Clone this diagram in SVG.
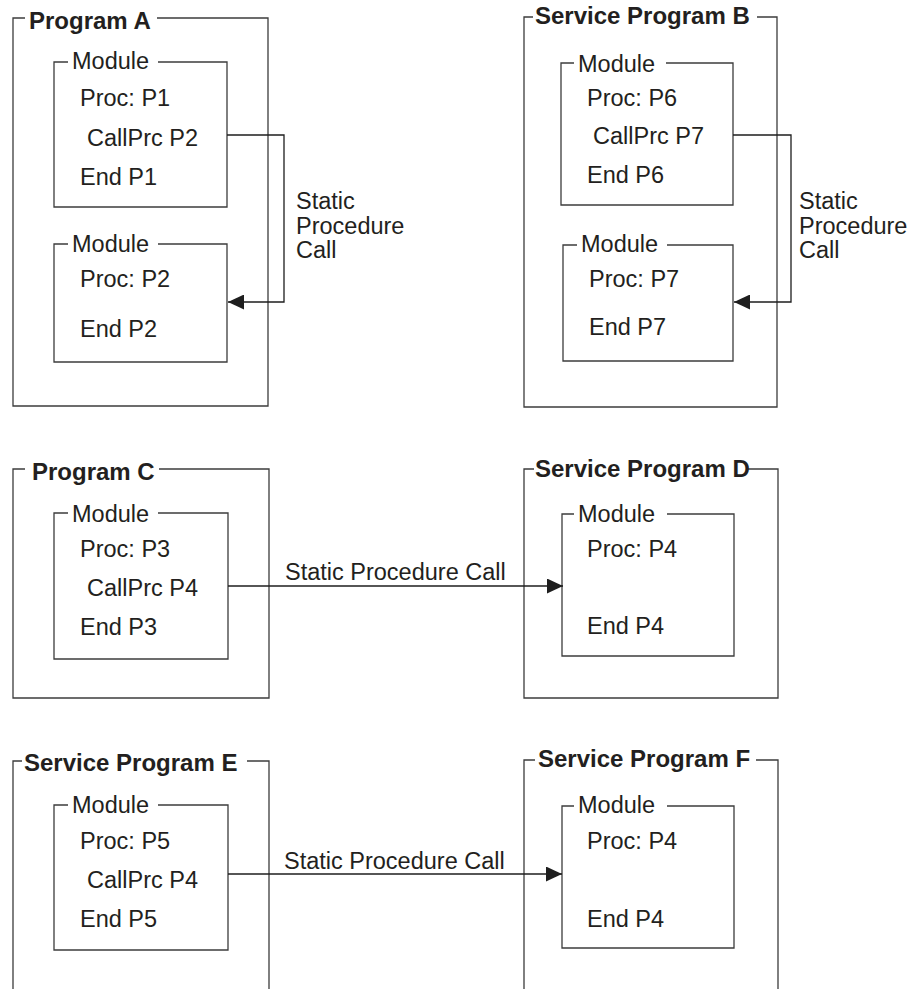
<svg xmlns="http://www.w3.org/2000/svg" width="914" height="989" viewBox="0 0 914 989">
<style>
.box{fill:none;stroke:#3c3c3c;stroke-width:1.3}
.conn{fill:none;stroke:#1e1e1e;stroke-width:1.3}
.t{font-family:"Liberation Sans",Arial,sans-serif;font-size:23.5px;fill:#231f20}
.b{font-family:"Liberation Sans",Arial,sans-serif;font-size:24px;font-weight:bold;fill:#231f20}
</style>
<defs>
<marker id="arr" markerUnits="userSpaceOnUse" viewBox="0 0 16 15" refX="16" refY="7.5" markerWidth="16" markerHeight="15" orient="auto">
<path d="M0,0 L16,7.5 L0,15 Z" fill="#1e1e1e"/>
</marker>
</defs>
<rect width="914" height="989" fill="#fff"/>

<g id="programA">
<path class="box" d="M25,18 H13 V406 H268 V18 H157"/>
<text class="b" x="29" y="29">Program A</text>
<g id="moduleA1">
<path class="box" d="M68,62 H54 V207 H227 V62 H158"/>
<text class="t" x="72" y="69">Module</text>
<text class="t" x="80" y="106">Proc: P1</text>
<text class="t" x="87" y="146">CallPrc P2</text>
<text class="t" x="80" y="185">End P1</text>
</g>
<g id="moduleA2">
<path class="box" d="M68,244 H54 V362 H227 V244 H158"/>
<text class="t" x="72" y="252">Module</text>
<text class="t" x="80" y="287">Proc: P2</text>
<text class="t" x="80" y="337">End P2</text>
</g>
</g>

<g id="serviceProgramB">
<path class="box" d="M533,17 H524 V407 H777 V17 H757"/>
<text class="b" x="535" y="24">Service Program B</text>
<g id="moduleB1">
<path class="box" d="M574,63 H561 V205 H733 V63 H666"/>
<text class="t" x="578" y="72">Module</text>
<text class="t" x="587" y="106">Proc: P6</text>
<text class="t" x="593" y="144">CallPrc P7</text>
<text class="t" x="587" y="183">End P6</text>
</g>
<g id="moduleB2">
<path class="box" d="M577,245 H563 V361 H733 V245 H667"/>
<text class="t" x="581" y="252">Module</text>
<text class="t" x="589" y="287">Proc: P7</text>
<text class="t" x="589" y="335">End P7</text>
</g>
</g>

<g id="programC">
<path class="box" d="M25,469 H13 V698 H269 V469 H159"/>
<text class="b" x="32" y="480">Program C</text>
<g id="moduleC">
<path class="box" d="M68,513 H54 V659 H228 V513 H158"/>
<text class="t" x="72" y="522">Module</text>
<text class="t" x="80" y="557">Proc: P3</text>
<text class="t" x="87" y="596">CallPrc P4</text>
<text class="t" x="80" y="635">End P3</text>
</g>
</g>

<g id="serviceProgramD">
<path class="box" d="M534,469 H524 V698 H778 V469 H748"/>
<text class="b" x="535" y="477">Service Program D</text>
<g id="moduleD">
<path class="box" d="M574,514 H562 V656 H734 V514 H667"/>
<text class="t" x="578" y="522">Module</text>
<text class="t" x="587" y="557">Proc: P4</text>
<text class="t" x="587" y="634">End P4</text>
</g>
</g>

<g id="serviceProgramE">
<path class="box" d="M22,761 H13 V990 M247,761 H269 V990"/>
<text class="b" x="24" y="771">Service Program E</text>
<g id="moduleE">
<path class="box" d="M68,805 H54 V950 H228 V805 H158"/>
<text class="t" x="72" y="813">Module</text>
<text class="t" x="80" y="849">Proc: P5</text>
<text class="t" x="87" y="888">CallPrc P4</text>
<text class="t" x="80" y="927">End P5</text>
</g>
</g>

<g id="serviceProgramF">
<path class="box" d="M535,760 H524 V990 M756,760 H778 V990"/>
<text class="b" x="538" y="767">Service Program F</text>
<g id="moduleF">
<path class="box" d="M574,806 H562 V948 H734 V806 H667"/>
<text class="t" x="578" y="813">Module</text>
<text class="t" x="587" y="849">Proc: P4</text>
<text class="t" x="587" y="927">End P4</text>
</g>
</g>

<g id="connectors">
<path class="conn" d="M227,135 H284 V302 H228" marker-end="url(#arr)"/>
<text class="t" x="296" y="209">Static</text>
<text class="t" x="296" y="234">Procedure</text>
<text class="t" x="296" y="258">Call</text>
<path class="conn" d="M733,135 H791 V302 H734" marker-end="url(#arr)"/>
<text class="t" x="799" y="209">Static</text>
<text class="t" x="799" y="234">Procedure</text>
<text class="t" x="799" y="258">Call</text>
<path class="conn" d="M228,586 H563" marker-end="url(#arr)"/>
<text class="t" x="285" y="580">Static Procedure Call</text>
<path class="conn" d="M228,874 H562" marker-end="url(#arr)"/>
<text class="t" x="284" y="869">Static Procedure Call</text>
</g>
</svg>
